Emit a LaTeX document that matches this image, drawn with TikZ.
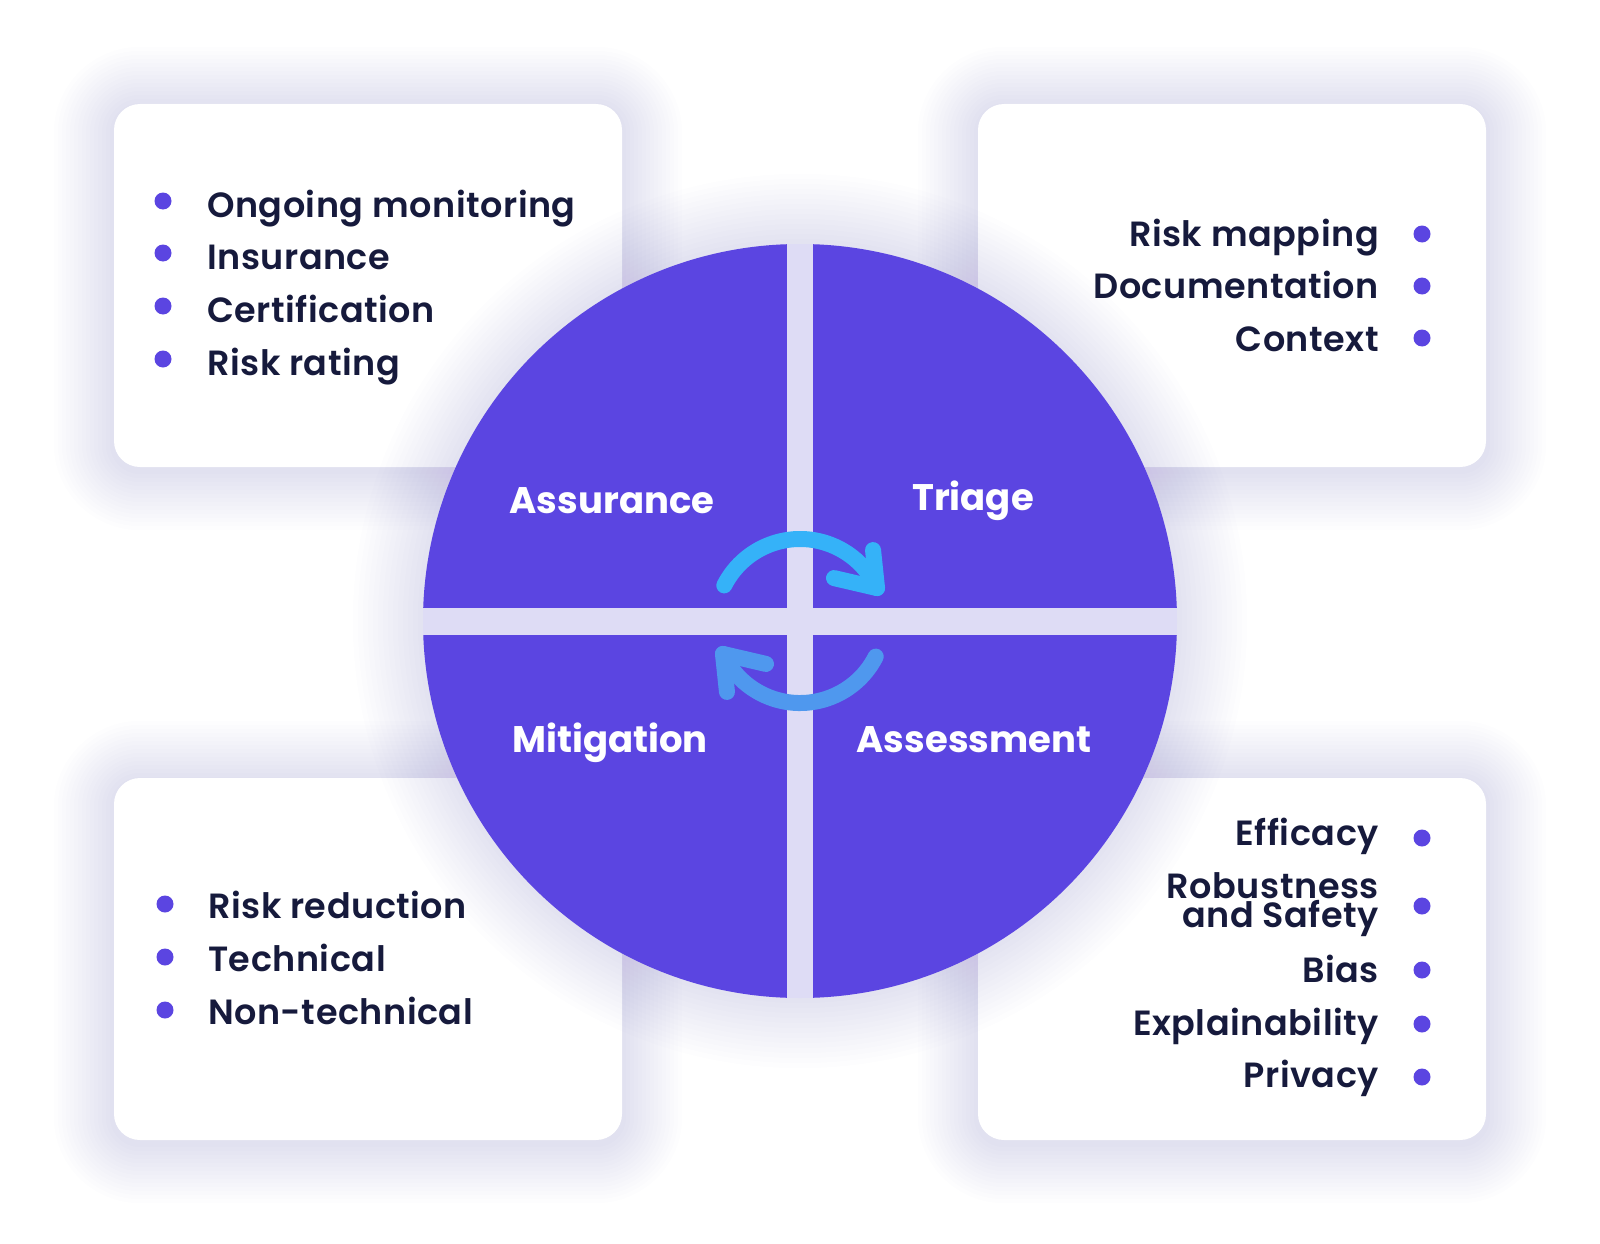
\documentclass[tikz,border=0pt]{standalone}
\usepackage{fontspec}
\IfFontExistsTF{Poppins SemiBold}{\newfontfamily\listfont{Poppins SemiBold}[LetterSpace=1.5]}{\newfontfamily\listfont{Poppins}[LetterSpace=1.5]}
\IfFontExistsTF{Poppins Bold}{\newfontfamily\labelfont{Poppins Bold}}{\newfontfamily\labelfont{Poppins}[FakeBold=2]}
\definecolor{qpurple}{HTML}{5B45E1}
\definecolor{txt}{HTML}{161A3C}
\definecolor{gapc}{HTML}{DEDCF5}
\definecolor{glowc}{HTML}{7E6EE6}
\definecolor{arrA}{HTML}{35B2F8}
\definecolor{arrB}{HTML}{4F98EE}
\tikzset{
  item/.style={font=\listfont\fontsize{35}{42}\selectfont, text=txt, inner sep=0pt},
  dot/.style={circle, fill=qpurple, minimum size=17pt, inner sep=0pt},
  qlabel/.style={font=\labelfont\fontsize{37}{44}\selectfont, text=white, inner sep=0pt, anchor=base},
  panel/.style={fill=white, rounded corners=26pt},
  cyc/.style={line width=16pt, line cap=round, line join=round},
}
\newcommand\glowrect[4]{%
  \foreach \i in {1,...,15}{%
    \pgfmathsetmacro\gr{26+4*\i}%
    \fill[glowc,opacity=0.013,rounded corners=\gr pt] ({#1-4*\i},{#2-4*\i+3}) rectangle ({#3+4*\i},{#4+4*\i+3});
  }}
\begin{document}
\begin{tikzpicture}[x=1pt,y=-1pt]
\useasboundingbox (0,0) rectangle (1600,1244);
\fill[white] (0,0) rectangle (1600,1244);
% panel glows
\glowrect{114}{104}{622}{467}
\glowrect{978}{104}{1486}{467}
\glowrect{114}{778}{622}{1140}
\glowrect{978}{778}{1486}{1140}
% panels
\fill[panel] (114,104) rectangle (622,467);
\fill[panel] (978,104) rectangle (1486,467);
\fill[panel] (114,778) rectangle (622,1140);
\fill[panel] (978,778) rectangle (1486,1140);
% circle glow
\foreach \i in {1,...,14}{\fill[glowc,opacity=0.013] (800,621) circle[radius={377+5*\i}];}
% circle with cross gap
\fill[gapc] (800,621) circle[radius=377];
\begin{scope}
  \clip (800,621) circle[radius=377];
  \fill[qpurple] (400,230) rectangle (787,608);
  \fill[qpurple] (813,230) rectangle (1200,608);
  \fill[qpurple] (400,635) rectangle (787,1010);
  \fill[qpurple] (813,635) rectangle (1200,1010);
\end{scope}
% cycle arrows
\draw[cyc, arrA] (800,624) ++(-153:85) coordinate (t0) arc[start angle=-153, end angle=-25, radius=85] coordinate (t1);
\draw[cyc, arrA] (t1) ++(-4,-38) -- (t1) -- ++(-43,-10);
\draw[cyc, arrB] (800,618) ++(27:85) coordinate (b0) arc[start angle=27, end angle=155, radius=85] coordinate (b1);
\draw[cyc, arrB] (b1) ++(4,38) -- (b1) -- ++(43,10);
% quadrant labels
\node[qlabel] (assurance) at (612,513) {Assurance};
\node[qlabel] (triage) at (973,510) {Triage};
\node[qlabel] (mitigation) at (610,752) {Mitigation};
\node[qlabel] (assessment) at (974,752) {Assessment};
% top-left list
\node[dot] (d1) at (163,201) {};
\node[dot] (d2) at (163,253) {};
\node[dot] (d3) at (163,306) {};
\node[dot] (d4) at (163,359) {};
\node[item, anchor=base west] (l1) at (207,217) {Ongoing monitoring};
\node[item, anchor=base west] (l2) at (207,269) {Insurance};
\node[item, anchor=base west] (l3) at (207,322) {Certification};
\node[item, anchor=base west] (l4) at (207,375) {Risk rating};
% top-right list
\node[dot] (e1) at (1422,234) {};
\node[dot] (e2) at (1422,286) {};
\node[dot] (e3) at (1422,338) {};
\node[item, anchor=base east] (r1) at (1379,246) {Risk mapping};
\node[item, anchor=base east] (r2) at (1379,298) {Documentation};
\node[item, anchor=base east] (r3) at (1379,351) {Context};
% bottom-left list
\node[dot] (f1) at (165,904) {};
\node[dot] (f2) at (165,957) {};
\node[dot] (f3) at (165,1010) {};
\node[item, anchor=base west] (m1) at (208,918) {Risk reduction};
\node[item, anchor=base west] (m2) at (208,971) {Technical};
\node[item, anchor=base west] (m3) at (208,1024) {Non-technical};
% bottom-right list
\node[dot] (g1) at (1422,838) {};
\node[dot] (g2) at (1422,906) {};
\node[dot] (g3) at (1422,970) {};
\node[dot] (g4) at (1422,1024) {};
\node[dot] (g5) at (1422,1077) {};
\node[item, anchor=base east] (s1) at (1379,845) {Efficacy};
\node[item, anchor=base east, align=right, font=\listfont\fontsize{35}{29}\selectfont] (s2) at (1379,927) {Robustness\\and Safety};
\node[item, anchor=base east] (s3) at (1379,982) {Bias};
\node[item, anchor=base east] (s4) at (1379,1035) {Explainability};
\node[item, anchor=base east] (s5) at (1379,1087) {Privacy};
\end{tikzpicture}
\end{document}
